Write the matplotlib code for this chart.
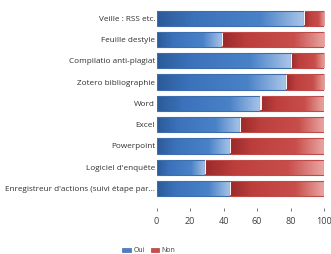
import numpy as np
import matplotlib.pyplot as plt
from matplotlib.colors import LinearSegmentedColormap
from matplotlib.patches import Patch

categories = ["Veille : RSS etc.", "Feuille destyle", "Compilatio anti-plagiat",
              "Zotero bibliographie", "Word", "Excel", "Powerpoint",
              "Logiciel d'enquête", "Enregistreur d'actions (suivi étape par..."]
oui = [88, 39, 80, 77, 62, 50, 44, 29, 44]
non = [12, 61, 20, 23, 38, 50, 56, 71, 56]
ticks = [0, 20, 40, 60, 80, 100]

blue_cm = LinearSegmentedColormap.from_list(
    "b", [(0, "#2c5a98"), (0.25, "#3b72bb"), (0.7, "#4a82c8"), (1, "#abc6e8")])
red_cm = LinearSegmentedColormap.from_list(
    "r", [(0, "#992a2a"), (0.25, "#bd3f3d"), (0.7, "#c84e4b"), (1, "#e9a6a3")])
grad = np.linspace(0, 1, 256).reshape(1, -1)

fig = plt.figure(figsize=(3.31, 2.54), dpi=100)
ax = fig.add_axes([0.473, 0.181, 0.506, 0.788])

y = np.arange(len(categories))
h = 0.72


def grad_bars(left, width, cmap, edge):
    bars = ax.barh(y, width, left=left, height=h, facecolor="none",
                   edgecolor=edge, linewidth=0.8, zorder=3)
    for b in bars:
        x0, y0 = b.get_x(), b.get_y()
        im = ax.imshow(grad, cmap=cmap, aspect="auto", zorder=2,
                       extent=[x0, x0 + b.get_width(), y0 + b.get_height(), y0])
        im.set_clip_path(b)


grad_bars(np.zeros(len(oui)), oui, blue_cm, "#3d6eae")
grad_bars(oui, non, red_cm, "#c04a48")
# thin light seam between the two segments
ax.barh(y, 0.7, left=oui, height=h * 0.9, color="#f4f4f4", zorder=4)

ax.set_xlim(0, 100)
ax.set_ylim(8.92, -0.49)
ax.set_yticks(y)
ax.set_yticklabels(categories, fontsize=5.85, color="#303030", family="Open Sans")
ax.set_xticks(ticks)
ax.set_xticklabels([str(t) for t in ticks], fontsize=6.5, color="#404040",
                   family="Open Sans")
ax.tick_params(axis="y", length=0, pad=1)
ax.tick_params(axis="x", length=2.5, width=0.6, color="#606060", pad=4)
for s in ax.spines.values():
    s.set_visible(False)

handles = [Patch(facecolor="#4a80c6", edgecolor="#3d6eae", lw=0.5, label="Oui"),
           Patch(facecolor="#c44f4c", edgecolor="#b04040", lw=0.5, label="Non")]
fig.legend(handles=handles, loc="center", bbox_to_anchor=(0.45, 0.012), ncol=2,
           frameon=False, prop={"family": "Open Sans", "size": 5},
           handlelength=1.2, handleheight=0.7, columnspacing=0.8, handletextpad=0.4,
           labelcolor="#404040")

fig.savefig("out.png", dpi=100)
